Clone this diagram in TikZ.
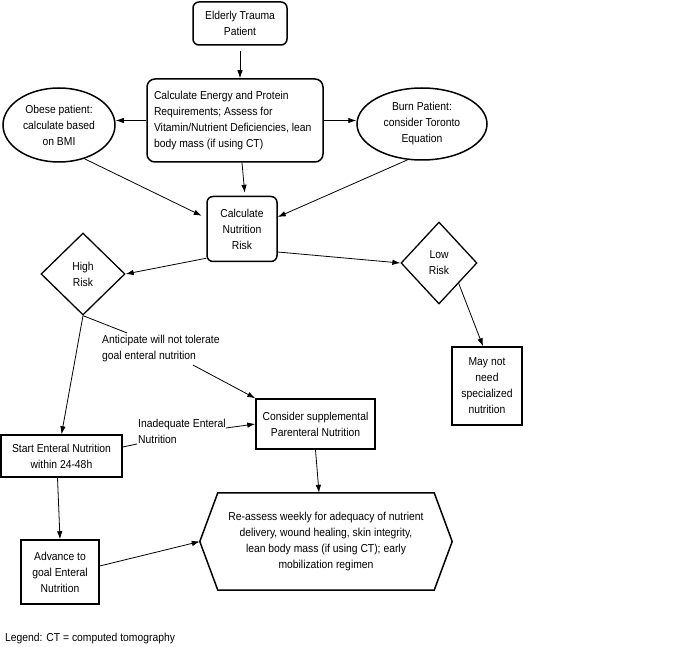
\documentclass[tikz,border=0pt]{standalone}
\usepackage{fontspec}
\setmainfont{Liberation Sans}[FakeStretch=0.9]
\usetikzlibrary{shapes.geometric,arrows.meta}
\begin{document}
\begin{tikzpicture}[x=1pt,y=-1pt,
  font=\fontsize{11.5}{16}\selectfont,
  box/.style={draw, line width=1.5pt, align=center, inner sep=2pt},
  rbox/.style={box, rounded corners=6pt},
  ell/.style={draw, ellipse, line width=1.5pt, align=center, inner sep=0pt},
  dia/.style={draw, diamond, line width=1.3pt, align=center, inner sep=0pt},
  arr/.style={-{Latex[length=8pt,width=5.5pt]}, line width=0.8pt},
  ln/.style={line width=0.8pt},
  lbl/.style={align=flush left, inner sep=0pt}]
\useasboundingbox (0,0) rectangle (673,647);

\node[rbox, minimum width=94pt, minimum height=43pt] (etp) at (240,23.5) {Elderly Trauma\\Patient};
\node[box, rounded corners=8pt, minimum height=83pt, text width=162pt, align=flush left, inner xsep=7pt, inner ysep=5pt] (calc) at (235,120.5)
  {Calculate Energy and Protein\\Requirements; Assess for\\Vitamin/Nutrient Deficiencies, lean\\body mass (if using CT)};
\node[ell, minimum width=112pt, minimum height=74pt] (obese) at (59,125) {Obese patient:\\calculate based\\on BMI};
\node[ell, minimum width=130pt, minimum height=72pt] (burn) at (422,124) {Burn Patient:\\consider Toronto\\Equation};
\node[rbox, minimum width=70pt, minimum height=65pt] (cnr) at (242,229) {Calculate\\Nutrition\\Risk};
\node[dia, minimum width=84pt, minimum height=82pt] (high) at (83,274) {High\\Risk};
\node[dia, minimum width=76pt, minimum height=82pt] (low) at (439,263) {Low\\Risk};
\node[box, minimum width=70pt, minimum height=78pt] (maynot) at (487,386) {May not\\need\\specialized\\nutrition};
\node[box, minimum width=119pt, minimum height=50pt] (supp) at (315.5,424) {Consider supplemental\\Parenteral Nutrition};
\node[box, minimum width=121pt, minimum height=42pt] (start) at (61.5,456) {Start Enteral Nutrition\\within 24-48h};
\node[box, minimum width=78pt, minimum height=64pt] (adv) at (60,572) {Advance to\\goal Enteral\\Nutrition};
\node[align=center, minimum width=252pt, minimum height=97pt, inner sep=0pt] (reassess) at (326,541.5)
  {Re-assess weekly for adequacy of nutrient\\delivery, wound healing, skin integrity,\\lean body mass (if using CT); early\\mobilization regimen};
\draw[line width=1.5pt] (reassess.west) -- ([xshift=18pt]reassess.north west) -- ([xshift=-18pt]reassess.north east)
  -- (reassess.east) -- ([xshift=-18pt]reassess.south east) -- ([xshift=18pt]reassess.south west) -- cycle;

\node[lbl, anchor=west] (antlbl) at (102,348.5) {Anticipate will not tolerate\\goal enteral nutrition};
\node[lbl, anchor=west] (inadlbl) at (138,431) {Inadequate Enteral\\Nutrition};
\node[lbl, anchor=west] (legend) at (5,639) {Legend: CT = computed tomography};

\draw[arr, shorten <=5pt] (etp.south) -- (etp.south |- calc.north);
\draw[arr] (calc.west) -- (calc.west -| obese.east);
\draw[arr] (calc.east) -- (calc.east -| burn.west);
\draw[arr, shorten >=3pt] ([xshift=7pt]calc.south) -- ([xshift=3pt]cnr.north);
\draw[arr, shorten >=5pt] (obese.-53) -- ([yshift=11pt]cnr.west);
\draw[arr] (burn.-112) -- ([yshift=12pt]cnr.east);
\draw[arr] ([yshift=4pt]cnr.south west) -- (high.east);
\draw[arr] ([yshift=-23pt]cnr.east) -- (low.west);
\draw[arr] (low.-46) -- ([xshift=-4pt]maynot.north);
\draw[arr] (high.south) -- (start.north);
\draw[ln] (high.south) -- ([xshift=25pt,yshift=2pt]antlbl.north west);
\draw[arr] ([xshift=91pt,yshift=-3pt]antlbl.south west) -- (supp.north west);
\draw[ln] ([yshift=9pt]start.east) -- ([xshift=-1pt,yshift=-13pt]inadlbl.west);
\draw[arr] ([yshift=3pt]inadlbl.east) -- (supp.west);
\draw[arr] (supp.south) -- ([xshift=-7pt]reassess.north);
\draw[arr] ([xshift=-4pt]start.south) -- (adv.north);
\draw[arr] ([yshift=6pt]adv.east) -- (reassess.west);
\end{tikzpicture}
\end{document}
